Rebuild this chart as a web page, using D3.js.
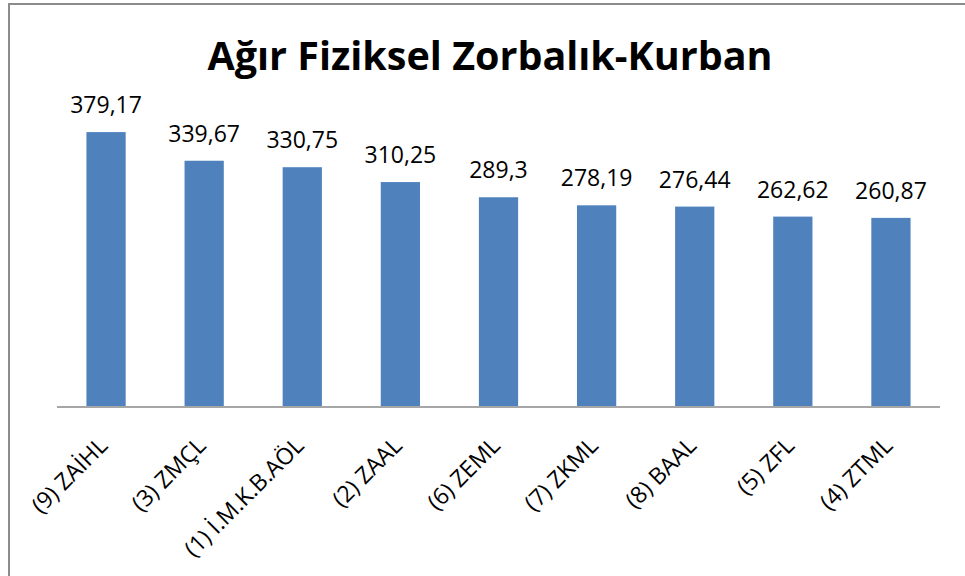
<!DOCTYPE html>
<html>
<head>
<meta charset="utf-8">
<script src="https://cdn.jsdelivr.net/npm/d3@7"></script>
<style>
  body { margin: 0; background: #fff; }
  text { font-family: "Open Sans", "Noto Sans", sans-serif; }
</style>
</head>
<body>
<div id="div_chart"></div>
<script>
// Chart data
var categories = ["(9) ZAİHL", "(3) ZMÇL", "(1) İ.M.K.B.AÖL", "(2) ZAAL", "(6) ZEML",
                  "(7) ZKML", "(8) BAAL", "(5) ZFL", "(4) ZTML"];
var values = [379.17, 339.67, 330.75, 310.25, 289.3, 278.19, 276.44, 262.62, 260.87];
var labels = ["379,17", "339,67", "330,75", "310,25", "289,3", "278,19", "276,44", "262,62", "260,87"];
var chartTitle = "Ağır Fiziksel Zorbalık-Kurban";

// Basic size information
var svgWidth = 965;
var svgHeight = 576;
var plot = {left: 57, right: 940, top: 117, bottom: 407};

var svg = d3.select("#div_chart")
    .append("svg")
        .attr("width", svgWidth)
        .attr("height", svgHeight);

// Outer frame
svg.append("rect")
    .attr("x", 9)
    .attr("y", 4)
    .attr("width", svgWidth)
    .attr("height", svgHeight)
    .attr("fill", "#fff")
    .attr("stroke", "#8c8c8c")
    .attr("stroke-width", 2);

// Scales
var x = d3.scaleBand()
    .domain(categories)
    .range([plot.left, plot.right])
    .paddingInner(0.6)
    .paddingOuter(0.3);

var y = d3.scaleLinear()
    .domain([0, 400])
    .range([plot.bottom, plot.top]);

// Title
svg.append("text")
    .attr("x", 490)
    .attr("y", 70)
    .attr("text-anchor", "middle")
    .style("font-size", "39.5px")
    .style("font-weight", "bold")
    .text(chartTitle);

// Bars
svg.append("g")
    .selectAll("rect")
    .data(values)
    .join("rect")
        .attr("x", (d, i) => x(categories[i]))
        .attr("y", d => y(d))
        .attr("width", x.bandwidth())
        .attr("height", d => y(0) - y(d))
        .attr("fill", "#4f81bd");

// Value labels
svg.append("g")
    .selectAll("text")
    .data(values)
    .join("text")
        .attr("x", (d, i) => x(categories[i]) + x.bandwidth() / 2)
        .attr("y", d => y(d) - 19)
        .attr("text-anchor", "middle")
        .style("font-size", "23px")
        .text((d, i) => labels[i]);

// Axis
var xAxis = svg.append("g")
    .attr("transform", "translate(0," + plot.bottom + ")")
    .call(d3.axisBottom(x).tickSize(0).tickPadding(0));

xAxis.select(".domain")
    .attr("stroke", "#a6a6a6")
    .attr("stroke-width", 2)
    .attr("d", "M" + plot.left + ",0H" + plot.right);

xAxis.selectAll("text")
    .attr("fill", "#000")
    .attr("text-anchor", "end")
    .attr("dy", null)
    .attr("y", 0)
    .attr("transform", "translate(3,40) rotate(-45)")
    .style("font-family", "\"Open Sans\", sans-serif")
    .style("font-size", "23px");
</script>
</body>
</html>
